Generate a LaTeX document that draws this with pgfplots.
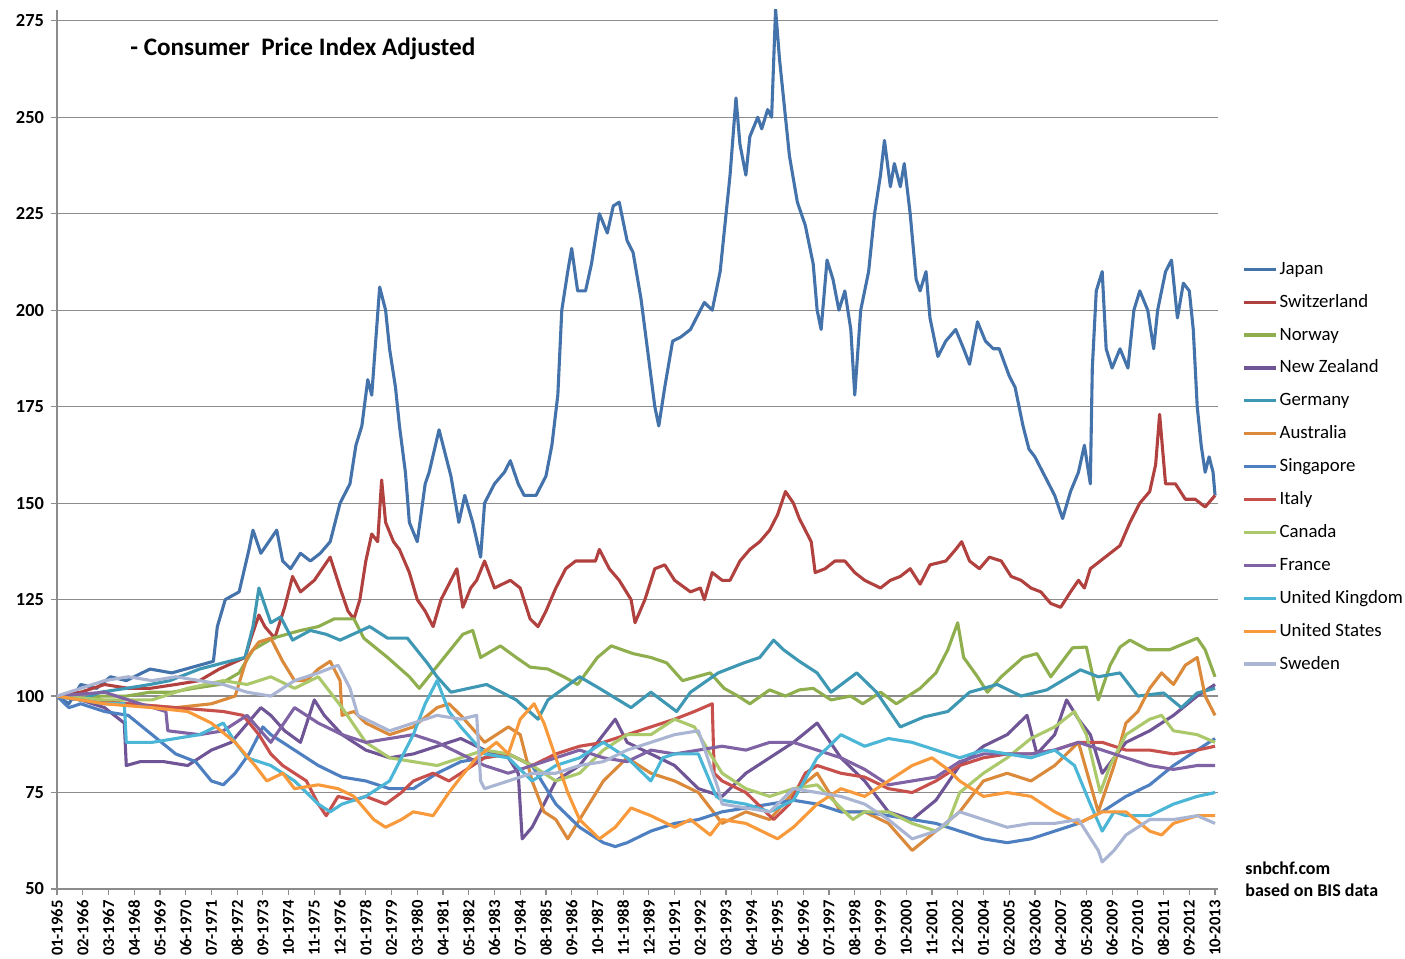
\documentclass[border=0pt]{standalone}
\usepackage{pgfplots}
\pgfplotsset{compat=1.18}
\usepackage{fontspec}
\setmainfont{Carlito}
\definecolor{cJP}{HTML}{4472AA}
\definecolor{cCH}{HTML}{B0413E}
\definecolor{cNO}{HTML}{8FAE4E}
\definecolor{cNZ}{HTML}{6F5496}
\definecolor{cDE}{HTML}{3E97B3}
\definecolor{cAU}{HTML}{DA8A3A}
\definecolor{cSG}{HTML}{4E7FC0}
\definecolor{cIT}{HTML}{C8504C}
\definecolor{cCA}{HTML}{ABC86A}
\definecolor{cFR}{HTML}{8063A5}
\definecolor{cUK}{HTML}{4BB6D6}
\definecolor{cUS}{HTML}{F89A3C}
\definecolor{cSE}{HTML}{A9B5D2}
\definecolor{gridc}{HTML}{8C8C8C}
\begin{document}
\begin{tikzpicture}
\begin{axis}[name=ax,
  scale only axis, width=580.5pt, height=439.5pt,
  xmin=0, xmax=586.5, ymin=50, ymax=277.8,
  axis lines*=left,
  axis line style={draw=gridc, line width=0.6pt},
  ytick={50,75,...,275},
  ymajorgrids, grid style={draw=gridc, line width=0.6pt},
  xtick={0,13,...,585},
  xticklabels={01-1965,02-1966,03-1967,04-1968,05-1969,06-1970,07-1971,08-1972,09-1973,10-1974,11-1975,12-1976,01-1978,02-1979,03-1980,04-1981,05-1982,06-1983,07-1984,08-1985,09-1986,10-1987,11-1988,12-1989,01-1991,02-1992,03-1993,04-1994,05-1995,06-1996,07-1997,08-1998,09-1999,10-2000,11-2001,12-2002,01-2004,02-2005,03-2006,04-2007,05-2008,06-2009,07-2010,08-2011,09-2012,10-2013},
  x tick label style={rotate=90, anchor=east, font=\fontsize{8.3}{9}\selectfont\bfseries, inner sep=2.5pt},
  y tick label style={font=\fontsize{9.2}{10}\selectfont\bfseries},
  /pgf/number format/assume math mode=true,
  tick style={draw=gridc, line width=0.6pt},
  major tick length=3pt,
  tick align=outside,
  xtick pos=bottom, ytick pos=left,
  clip=true,
  legend cell align=left,
  legend style={draw=none, fill=none, inner sep=0pt, at={(1.0207,0.718)}, anchor=north west,
    font=\fontsize{9.4}{11}\selectfont, row sep=5.45pt,
    nodes={inner sep=1pt, text height=7pt, text depth=2pt}},
  legend image code/.code={\draw[#1, line width=1.6pt] (0pt,0pt) -- (16pt,0pt);},
  every axis plot/.append style={line width=1.55pt, line join=round, mark=none},
]
% Japan
\addplot[cJP] coordinates {(0,100)(6,98)(12,103)(20,102)(27,105)(35,104)(47,107)(58,106)(72,108)(79,109)(81,118)(85,125)(92,127)(97,138)(99,143)(103,137)(107,140)(111,143)(114,135)(118,133)(123,137)(128,135)(133,137)(138,140)(143,150)(148,155)(151,165)(154,170)(157,182)(159,178)(163,206)(166,200)(168,190)(171,180)(173,170)(176,158)(178,145)(182,140)(186,155)(188,158)(193,169)(199,157)(203,145)(206,152)(210,145)(214,136)(216,150)(221,155)(226,158)(229,161)(233,155)(236,152)(242,152)(247,157)(250,165)(253,178)(255,200)(258,210)(260,216)(263,205)(267,205)(270,212)(274,225)(278,220)(281,227)(284,228)(288,218)(291,215)(295,203)(299,187)(302,175)(304,170)(307,180)(311,192)(315,193)(320,195)(323,198)(327,202)(331,200)(335,210)(338,225)(340,235)(343,255)(345,243)(348,235)(350,245)(354,250)(356,247)(359,252)(361,250)(363,278)(365,265)(368,250)(370,240)(374,228)(378,222)(382,212)(384,200)(386,195)(389,213)(392,208)(395,200)(398,205)(401,195)(403,178)(406,200)(410,210)(413,225)(416,235)(418,244)(421,232)(423,238)(426,232)(428,238)(431,225)(434,208)(436,205)(439,210)(441,198)(445,188)(449,192)(454,195)(458,190)(461,186)(465,197)(469,192)(473,190)(476,190)(481,183)(484,180)(488,170)(491,164)(494,162)(499,157)(504,152)(508,146)(512,153)(516,158)(519,165)(522,155)(523,185)(525,205)(528,210)(530,190)(533,185)(537,190)(541,185)(544,200)(547,205)(551,200)(554,190)(556,200)(560,210)(563,213)(566,198)(569,207)(572,205)(574,195)(576,175)(578,165)(580,158)(582,162)(584,158)(585,152)};
\addlegendentry{Japan}
% Switzerland
\addplot[cCH] coordinates {(0,100)(12,101)(24,103)(36,102)(47,102)(60,103)(72,104)(82,107)(95,110)(98,115)(102,121)(105,118)(110,115)(115,123)(119,131)(123,127)(130,130)(138,136)(143,128)(147,122)(150,120)(153,125)(156,135)(159,142)(162,140)(164,156)(166,145)(170,140)(173,138)(178,132)(182,125)(186,122)(190,118)(194,125)(199,130)(202,133)(205,123)(209,128)(212,130)(216,135)(221,128)(229,130)(234,128)(239,120)(243,118)(247,122)(252,128)(257,133)(262,135)(267,135)(272,135)(274,138)(279,133)(284,130)(290,125)(292,119)(297,125)(302,133)(307,134)(312,130)(320,127)(325,128)(327,125)(331,132)(336,130)(340,130)(345,135)(350,138)(355,140)(360,143)(364,147)(368,153)(372,150)(375,146)(381,140)(383,132)(388,133)(393,135)(398,135)(403,132)(408,130)(416,128)(421,130)(426,131)(431,133)(436,129)(441,134)(449,135)(454,138)(457,140)(461,135)(466,133)(471,136)(477,135)(482,131)(487,130)(492,128)(497,127)(502,124)(507,123)(512,127)(516,130)(519,128)(522,133)(527,135)(532,137)(537,139)(542,145)(547,150)(552,153)(555,160)(557,173)(560,155)(565,155)(570,151)(575,151)(580,149)(585,152)};
\addlegendentry{Switzerland}
% Norway
\addplot[cNO] coordinates {(0,100)(12,99)(22,100)(35,100)(47,101)(58,101)(69,102)(82,103)(92,106)(99,112)(109,115)(123,117)(132,118)(140,120)(150,120)(155,115)(167,110)(178,105)(183,102)(194,109)(205,116)(210,117)(214,110)(224,113)(232,110)(239,107.5)(248,107)(256,105)(263,103)(273,110)(280,113)(291,111)(300,110)(308,108.6)(316,104)(330,106)(337,102)(344,100)(350,98)(360,101.6)(368,100)(375,101.6)(382,102)(391,99)(401,100)(407,98)(416,101)(424,98)(436,102)(444,106)(450,112)(455,119)(458,110)(465,105)(470,101)(477,105)(488,110)(495,111)(502,105)(513,112.5)(520,112.7)(526,99)(532,108)(537,112.7)(542,114.5)(551,112)(562,112)(576,115)(580,112)(585,105)};
\addlegendentry{Norway}
% New Zealand
\addplot[cNZ] coordinates {(0,100)(12,99)(24,97)(34,93)(35,82)(42,83)(54,83)(66,82)(78,86)(88,88)(98,94)(103,97)(108,95)(115,91)(123,88)(130,99)(135,95)(144,90)(150,88)(156,86)(168,84)(180,85)(192,87)(204,89)(216,86)(228,84)(233,80)(235,63)(240,66)(246,72)(252,78)(264,82)(276,90)(282,94)(288,88)(300,85)(312,82)(324,76)(336,74)(348,80)(360,84)(372,88)(384,93)(396,84)(408,78)(420,70)(432,68)(444,73)(456,82)(468,87)(480,90)(490,95)(495,85)(504,90)(510,99)(516,94)(522,90)(528,80)(534,84)(540,88)(552,91)(564,95)(576,100)(585,103)};
\addlegendentry{New Zealand}
% Germany
\addplot[cDE] coordinates {(0,100)(12,99)(22,101)(35,102)(47,103)(57,104)(72,107)(87,109)(95,110)(99,118)(102,128)(108,119)(113,120.5)(119,114.5)(128,117)(136,116)(143,114.5)(158,118)(167,115)(177,115)(187,108.6)(192,105)(199,101)(208,102)(217,103)(232,99)(243,94)(248,99)(256,102)(264,105)(274,102)(290,97)(300,101)(313,96)(320,101)(334,106)(347,108.6)(355,110)(362,114.5)(367,112)(375,109)(384,106)(391,101)(404,106)(414,101)(426,92)(438,94.6)(450,96)(461,101)(475,103)(487,100)(500,101.6)(517,106.8)(526,105)(537,106)(546,100)(559,100.8)(568,97)(576,100.8)(585,102)};
\addlegendentry{Germany}
% Australia
\addplot[cAU] coordinates {(0,100)(18,99)(36,98)(60,97)(78,98)(90,100)(96,110)(102,114)(108,115)(114,109)(120,104)(126,104)(132,107)(138,109)(143,104)(144,95)(150,96)(156,93)(168,90)(180,92)(192,97)(198,98)(204,95)(216,88)(228,92)(234,90)(240,78)(246,70)(252,68)(258,63)(264,68)(276,78)(288,84)(300,80)(312,78)(324,75)(336,67)(348,70)(360,68)(372,75)(384,80)(396,70)(408,70)(420,67)(432,60)(444,65)(456,70)(468,78)(480,80)(492,78)(504,82)(516,88)(526,70)(534,82)(540,93)(546,96)(552,102)(558,106)(564,103)(570,108)(576,110)(580,100)(585,95)};
\addlegendentry{Australia}
% Singapore
\addplot[cSG] coordinates {(0,100)(6,97)(12,98)(24,96)(36,95)(48,90)(60,85)(70,83)(78,78)(84,77)(90,80)(97,85)(104,92)(108,90)(120,86)(132,82)(144,79)(156,78)(168,76)(180,76)(192,80)(204,83)(216,84)(228,85)(240,82)(252,72)(264,66)(276,62)(282,61)(288,62)(300,65)(312,67)(324,68)(336,70)(348,71)(360,72)(372,73)(384,72)(396,70)(408,70)(420,69)(432,68)(444,67)(456,65)(468,63)(480,62)(492,63)(504,65)(516,67)(528,70)(540,74)(552,77)(564,82)(576,86)(585,89)};
\addlegendentry{Singapore}
% Italy
\addplot[cIT] coordinates {(0,100)(12,99)(36,98)(60,97)(84,96)(94,95)(102,90)(108,85)(114,82)(120,80)(126,78)(132,72)(136,69)(142,74)(150,73)(156,74)(166,72)(174,75)(180,78)(190,80)(198,78)(204,80)(216,84)(228,85)(240,82)(252,85)(264,87)(276,88)(288,90)(300,92)(312,94)(322,96)(331,98)(332,80)(336,78)(348,75)(362,68)(370,72)(378,80)(384,82)(396,80)(408,79)(420,76)(432,75)(444,78)(456,82)(468,84)(480,85)(492,85)(504,86)(516,88)(528,88)(540,86)(552,86)(564,85)(576,86)(585,87)};
\addlegendentry{Italy}
% Canada
\addplot[cCA] coordinates {(0,100)(24,99)(48,99)(66,102)(84,104)(96,103)(108,105)(120,102)(132,105)(144,97)(156,88)(168,84)(180,83)(192,82)(204,84)(216,86)(228,85)(240,82)(252,78)(264,80)(276,86)(288,90)(300,90)(312,94)(322,92)(330,85)(336,80)(348,76)(360,74)(372,76)(384,77)(402,68)(408,70)(420,70)(432,67)(444,65)(450,67)(456,75)(468,80)(480,84)(492,89)(504,92)(514,96)(520,90)(527,75)(532,82)(540,90)(552,94)(558,95)(564,91)(576,90)(585,88)};
\addlegendentry{Canada}
% France
\addplot[cFR] coordinates {(0,100)(24,101)(42,98)(55,96)(56,91)(72,90)(84,91)(96,95)(108,88)(120,97)(132,93)(144,90)(156,88)(168,89)(180,90)(192,88)(204,85)(216,82)(228,80)(240,82)(252,84)(264,86)(276,84)(288,83)(300,86)(312,85)(324,86)(336,87)(348,86)(360,88)(372,88)(384,86)(396,84)(408,81)(420,77)(432,78)(444,79)(456,83)(468,85)(480,85)(492,85)(504,86)(516,88)(528,86)(540,84)(552,82)(564,81)(576,82)(585,82)};
\addlegendentry{France}
% United Kingdom
\addplot[cUK] coordinates {(0,100)(12,99)(24,98)(34,98)(35,88)(48,88)(60,89)(72,90)(84,93)(90,88)(96,84)(108,82)(120,78)(132,72)(138,70)(144,72)(156,74)(168,78)(180,90)(186,98)(192,104)(198,96)(204,92)(216,85)(228,84)(240,78)(252,82)(264,84)(276,88)(288,84)(300,78)(306,84)(312,85)(324,85)(333,74)(336,73)(348,72)(360,70)(372,73)(384,84)(396,90)(408,87)(420,89)(432,88)(444,86)(456,84)(468,86)(480,85)(492,84)(504,86)(514,82)(522,72)(528,65)(534,70)(540,69)(552,69)(564,72)(576,74)(585,75)};
\addlegendentry{United Kingdom}
% United States
\addplot[cUS] coordinates {(0,100)(24,98)(48,97)(66,96)(78,93)(90,88)(100,82)(106,78)(114,80)(120,76)(132,77)(142,76)(150,74)(160,68)(166,66)(174,68)(180,70)(190,69)(198,75)(204,79)(212,84)(222,88)(228,85)(234,94)(241,98)(246,93)(252,84)(258,75)(264,68)(274,63)(282,66)(290,71)(300,69)(312,66)(320,68)(330,64)(336,68)(348,67)(364,63)(372,66)(384,72)(396,76)(408,74)(420,78)(432,82)(442,84)(450,81)(456,78)(468,74)(480,75)(492,74)(504,70)(516,67)(528,70)(540,70)(552,65)(558,64)(564,67)(576,69)(585,69)};
\addlegendentry{United States}
% Sweden
\addplot[cSE] coordinates {(0,100)(12,102)(24,104)(36,105)(48,104)(60,105)(72,104)(84,103)(96,101)(108,100)(120,104)(132,106)(142,108)(148,102)(152,95)(156,94)(168,91)(180,93)(192,95)(204,94)(212,95)(214,78)(216,76)(228,78)(240,80)(252,80)(264,82)(276,83)(288,86)(300,88)(312,90)(324,91)(334,76)(336,72)(348,71)(360,70)(372,76)(384,75)(396,74)(408,72)(420,68)(432,63)(444,65)(456,70)(468,68)(480,66)(492,67)(504,67)(516,68)(526,60)(528,57)(534,60)(540,64)(552,68)(564,68)(576,69)(585,67)};
\addlegendentry{Sweden}
\node[anchor=west, inner sep=0pt, font=\fontsize{12.6}{14}\selectfont\bfseries] at (rel axis cs:0.0629,0.9556) {- Consumer\ \ Price Index Adjusted};
\end{axis}
\node[anchor=west, font=\fontsize{9}{10}\selectfont\bfseries, inner sep=0pt] at ([xshift=13.5pt,yshift=10.5pt]ax.south east) {snbchf.com};
\node[anchor=west, font=\fontsize{9}{10}\selectfont\bfseries, inner sep=0pt] at ([xshift=13.5pt,yshift=-0.5pt]ax.south east) {based on BIS data};
\pgfresetboundingbox
\path ([xshift=-28.5pt,yshift=-35pt]ax.south west) rectangle ([xshift=93.5pt,yshift=5pt]ax.north east);
\end{tikzpicture}
\end{document}
